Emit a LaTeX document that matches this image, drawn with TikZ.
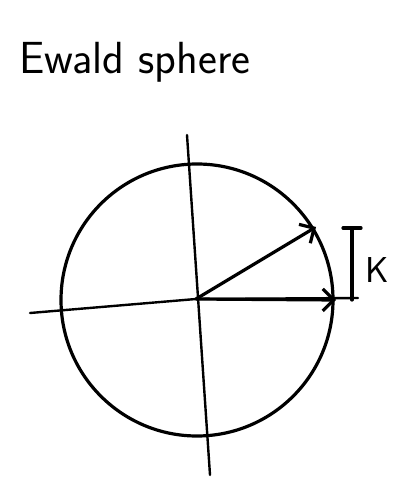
\documentclass[tikz,border=0pt]{standalone}
\usepackage{tikz}
\usetikzlibrary{arrows.meta}

\begin{document}
\begin{tikzpicture}[x=1pt,y=-1pt,
	pen/.style={line width=3.2pt, line cap=round, line join=round},
	vec/.style={pen, -{Straight Barb[length=11pt,width=22pt,line width=3.2pt]}},
	]
	\useasboundingbox (0,0) rectangle (399,486);
	%Title
	\node[anchor=west](title) at (16,62){\fontsize{45}{46}\selectfont\sffamily Ewald sphere};

	%Points
	\coordinate (O) at (196,299);
	\coordinate (xl) at (30,313);
	\coordinate (xr) at (358,298);
	\coordinate (yt) at (187,135);
	\coordinate (yb) at (210,475);
	\coordinate (kin) at (336,300);
	\coordinate (kout) at (316,227);
	\coordinate (bt) at (352,228);
	\coordinate (bb) at (352,300);

	%Sphere and axes
	\draw[pen] (197,300) circle[radius=136];
	\draw[pen, line width=2.4pt] (xl) -- (O) -- (xr);
	\draw[pen, line width=2.4pt] (yt) -- (yb);

	%Vectors
	\draw[vec] (O) -- (kout);
	\draw[vec] (O) -- (kin);

	%Length
	\draw[pen] (bb) -- (bt);
	\draw[pen] ([xshift=-9pt]bt) -- ([xshift=9pt]bt);
	\node[font=\fontsize{36}{36}\selectfont\sffamily](k) at (377,270){K};
\end{tikzpicture}
\end{document}
